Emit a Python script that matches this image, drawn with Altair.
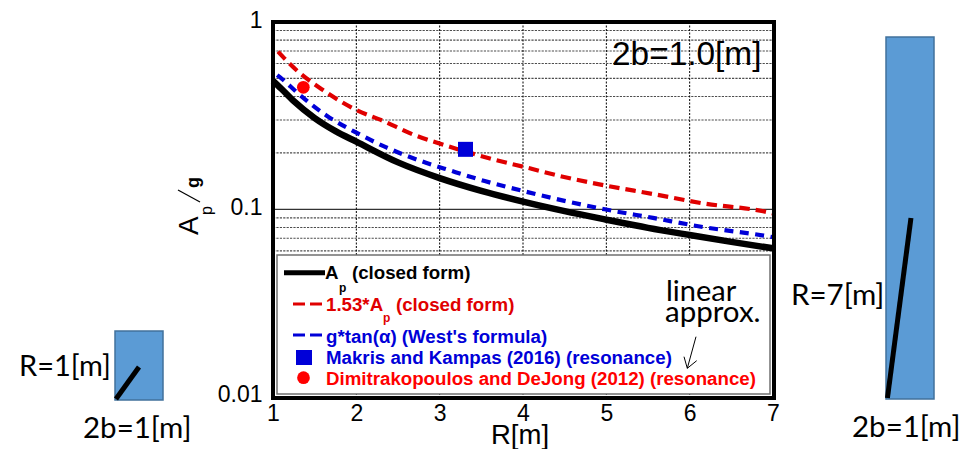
import altair as alt
import pandas as pd

# ---------- data ----------
black_R = [1.0, 1.1, 1.25, 1.5, 1.75, 2.0, 2.5, 3.0, 3.5, 4.0, 4.5, 5.0, 5.5, 6.0, 6.5, 7.0]
black_A = [0.485, 0.44, 0.378, 0.307, 0.2615, 0.2296, 0.178, 0.1468, 0.1255, 0.1098, 0.0977, 0.088, 0.0796, 0.0729, 0.067, 0.0619]
red_R = [1.06, 1.28, 1.60, 1.96, 2.34, 2.68, 3.06, 3.64, 4.08, 4.44, 5.0, 5.56, 6.16, 6.94, 7.0]
red_A = [0.695, 0.554, 0.433, 0.346, 0.294, 0.251, 0.22, 0.185, 0.1655, 0.1506, 0.1337, 0.1207, 0.1076, 0.0964, 0.095]
blue_R = [1.05, 1.1, 1.3, 1.645, 2.0, 2.36, 2.76, 3.15, 3.54, 4.04, 4.4, 4.98, 5.56, 6.14, 6.92, 7.0]
blue_A = [0.52, 0.5, 0.416, 0.316, 0.2565, 0.214, 0.182, 0.16, 0.1416, 0.124, 0.1135, 0.1, 0.09, 0.0807, 0.072, 0.071]
makris_R, makris_A = [3.31], [0.209]
dimitra_R, dimitra_A = [1.364], [0.448]
x_ticks = [1, 2, 3, 4, 5, 6, 7]
y_ticks = [0.01, 0.1, 1]
v_grid = [2, 3, 4, 5, 6]
h_grid = [0.06, 0.07, 0.08, 0.09, 0.2, 0.3, 0.4, 0.5, 0.6, 0.7, 0.8, 0.9]
solid_grid = [0.1]

# schematic blocks, metres on their own scales
left_block_w, left_block_h = [1.0], [1.44]
left_line_x, left_line_y = [0.02, 0.5], [0.02, 0.69]
right_block_w, right_block_h = [1.0], [7.54]
right_line_x, right_line_y = [0.03, 0.52], [0.02, 3.77]

# ---------- layout (page pixels minus the 8px margin) ----------
M = 8
W, H = 956, 441
XR = [273 - M, 773 - M]
YR = [396.6 - M, 22 - M]
FONT = "Liberation Sans"
SIDE = "Lato"
LEG = 18.7
sx = alt.Scale(domain=[1, 7], range=XR)
sy = alt.Scale(type="log", domain=[0.01, 1], range=YR)
sx_flat = lambda: alt.X("R:Q", scale=sx, axis=None)
sy_flat = lambda: alt.Y("A:Q", scale=sy, axis=None)
ONE = alt.Data(values=[{"a": 1}])


def frame(R, A):
    return pd.DataFrame({"R": R, "A": A})


def box(x0, y0, x1, y1, **kw):
    return alt.Chart(ONE).mark_rect(**kw).encode(
        x=alt.value(x0 - M), x2=alt.value(x1 - M), y=alt.value(y0 - M), y2=alt.value(y1 - M))


def stroke(x0, y0, x1, y1, color="black", width=1.0, dash=None):
    kw = {"color": color, "strokeWidth": width}
    if dash:
        kw["strokeDash"] = dash
    return alt.Chart(ONE).mark_rule(**kw).encode(
        x=alt.value(x0 - M), x2=alt.value(x1 - M), y=alt.value(y0 - M), y2=alt.value(y1 - M))


def label(s, x, y, size, color="black", font=FONT, bold=False, angle=0, align="left"):
    return alt.Chart(ONE).mark_text(
        text=s, font=font, fontSize=size, color=color, align=align, baseline="alphabetic",
        fontWeight="bold" if bold else "normal", angle=angle,
    ).encode(x=alt.value(x - M), y=alt.value(y - M))


layers = []

# grid
layers.append(alt.Chart(pd.DataFrame({"A": h_grid})).mark_rule(color="#4d4d4d", strokeWidth=1.1, strokeDash=[2.2, 1.2]).encode(
    y=sy_flat(), x=alt.value(XR[0]), x2=alt.value(XR[1])))
layers.append(alt.Chart(pd.DataFrame({"A": solid_grid})).mark_rule(color="black", strokeWidth=1).encode(
    y=sy_flat(), x=alt.value(XR[0]), x2=alt.value(XR[1])))
layers.append(alt.Chart(pd.DataFrame({"R": v_grid})).mark_rule(color="black", strokeWidth=1, strokeDash=[2, 1.5]).encode(
    x=sx_flat(), y=alt.value(YR[1]), y2=alt.value(YR[0])))

# axes
layers.append(alt.Chart(pd.DataFrame({"R": x_ticks})).mark_point(opacity=0).encode(
    x=alt.X("R:Q", scale=sx, axis=alt.Axis(
        values=x_ticks, title=None, domain=False, ticks=False, grid=False, orient="bottom",
        labelFont=FONT, labelFontSize=23, labelColor="black", labelPadding=6, labelFlush=False,
        format="d", offset=YR[0] - H, labelOverlap=False))))
layers.append(alt.Chart(pd.DataFrame({"A": y_ticks})).mark_point(opacity=0).encode(
    y=alt.Y("A:Q", scale=sy, axis=alt.Axis(
        values=y_ticks, title=None, domain=False, ticks=False, grid=False, orient="left",
        labelFont=FONT, labelFontSize=23, labelColor="black", labelPadding=11, labelOffset=-2,
        labelExpr="datum.value >= 1 ? '1' : datum.value >= 0.1 ? '0.1' : '0.01'",
        offset=-XR[0], labelOverlap=False, labelFlush=False))))

# curves
layers.append(alt.Chart(frame(red_R, red_A)).mark_line(color="#e00000", strokeWidth=4.2, strokeDash=[10.5, 6], interpolate="monotone").encode(x=sx_flat(), y=sy_flat()))
layers.append(alt.Chart(frame(blue_R, blue_A)).mark_line(color="#0000d8", strokeWidth=4.2, strokeDash=[9, 6.5], interpolate="monotone").encode(x=sx_flat(), y=sy_flat()))
layers.append(alt.Chart(frame(black_R, black_A)).mark_line(color="black", strokeWidth=6.5, interpolate="monotone").encode(x=sx_flat(), y=sy_flat()))
layers.append(alt.Chart(frame(makris_R, makris_A)).mark_point(shape="square", filled=True, color="#0000d8", size=225, opacity=1).encode(x=sx_flat(), y=sy_flat()))
layers.append(alt.Chart(frame(dimitra_R, dimitra_A)).mark_point(shape="circle", filled=True, color="#ff0000", size=161, opacity=1).encode(x=sx_flat(), y=sy_flat()))

# legend box
layers.append(box(277, 255, 770, 394, fill="white", stroke="#707070", strokeWidth=1.5))
# plot frame
layers.append(box(273, 22, 774, 398, fill="transparent", stroke="black", strokeWidth=4))

# legend entries
layers.append(stroke(284, 272.7, 325, 272.7, width=5))
layers.append(label("A", 325, 279, LEG, bold=True))
layers.append(label("p", 339, 292, 12, bold=True))
layers.append(label("(closed form)", 352, 279, LEG, bold=True))
layers.append(stroke(293, 304, 322, 304, color="#e00000", width=3, dash=[12, 5]))
layers.append(label("1.53*A", 326, 310.5, LEG, color="#e00000", bold=True))
layers.append(label("p", 383, 321.5, 12, color="#e00000", bold=True))
layers.append(label("(closed form)", 396, 310.5, LEG, color="#e00000", bold=True))
layers.append(stroke(293, 335, 322, 335, color="#0000d8", width=3, dash=[12, 5]))
layers.append(label("g*tan(\u03b1) (West's formula)", 326, 342.5, LEG, color="#0000d8", bold=True))
layers.append(label("Makris and Kampas (2016) (resonance)", 326, 364, LEG, color="#0000d8", bold=True))
layers.append(label("Dimitrakopoulos and DeJong (2012) (resonance)", 326, 385, LEG, color="#ff0000", bold=True))
layers.append(box(296, 350, 312, 365, fill="#0000d8"))
layers.append(alt.Chart(ONE).mark_point(shape="circle", filled=True, color="#ff0000", size=161, opacity=1).encode(
    x=alt.value(303.5 - M), y=alt.value(377.7 - M)))

# annotations in the plot
layers.append(label("2b=1.0[m]", 612, 65, 33.4))
layers.append(label("linear", 666, 301, 29, font=SIDE))
layers.append(label("approx.", 665, 322, 29.5, font=SIDE))
layers.append(stroke(696, 336.7, 687.3, 368.3))
layers.append(stroke(684, 356.7, 687.3, 368.3))
layers.append(stroke(696.7, 360.7, 687.3, 368.3))

# axis titles
layers.append(label("R[m]", 491, 444, 27.5))
layers.append(label("A", 198, 235, 28, angle=270))
layers.append(label("p", 212, 215, 16, angle=270))
layers.append(stroke(178, 190, 200, 202, width=1.2))
layers.append(label("g", 199, 188, 18, angle=270, bold=True))

# schematics, each on a scale of its own
for xr, yr, w, h, lx, ly in [
    ([115 - M, 163 - M], [400 - M, 331 - M], left_block_w, left_block_h, left_line_x, left_line_y),
    ([886 - M, 934 - M], [399 - M, 37 - M], right_block_w, right_block_h, right_line_x, right_line_y),
]:
    bx = alt.Scale(domain=[0, 1], range=xr)
    by = alt.Scale(domain=[0, h[0]], range=yr)
    layers.append(alt.Chart(pd.DataFrame({"x0": [0.0], "x1": w, "y0": [0.0], "y1": h})).mark_rect(
        fill="#5b9bd5", stroke="#41719c", strokeWidth=1.5).encode(
        x=alt.X("x0:Q", scale=bx, axis=None), x2="x1:Q",
        y=alt.Y("y0:Q", scale=by, axis=None), y2="y1:Q"))
    layers.append(alt.Chart(pd.DataFrame({"x": lx, "y": ly})).mark_line(color="black", strokeWidth=5).encode(
        x=alt.X("x:Q", scale=bx, axis=None), y=alt.Y("y:Q", scale=by, axis=None)))

layers.append(label("R=1[m]", 19, 376, 29, font=SIDE))
layers.append(label("2b=1[m]", 83, 438, 29.5, font=SIDE))
layers.append(label("R=7[m]", 791, 305, 29.5, font=SIDE))
layers.append(label("2b=1[m]", 852, 437, 29.5, font=SIDE))

chart = (
    alt.layer(*layers)
    .resolve_scale(x="independent", y="independent")
    .properties(width=W, height=H, padding=0, autosize=alt.AutoSizeParams(type="none"))
    .configure_view(stroke=None)
)
chart.save("out.html", embed_options={"renderer": "svg", "actions": False})
